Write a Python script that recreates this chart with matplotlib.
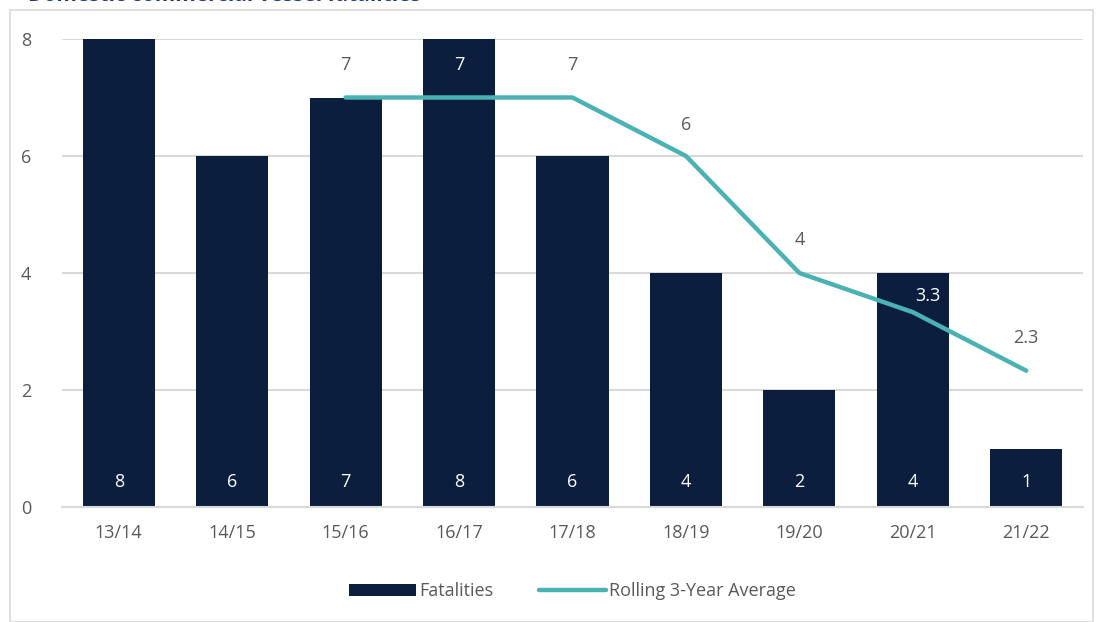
import matplotlib.pyplot as plt
import numpy as np
from matplotlib.patches import Rectangle

years = ['13/14', '14/15', '15/16', '16/17', '17/18', '18/19', '19/20', '20/21', '21/22']
fatalities = [8, 6, 7, 8, 6, 4, 2, 4, 1]
rolling = [np.nan, np.nan, 7, 7, 7, 6, 4, 3.33, 2.33]
rolling_labels = ['', '', '7', '7', '7', '6', '4', '3.3', '2.3']

navy = '#0B1E3E'
teal = '#4BB2B4'
grey = '#595959'

plt.rcParams['font.family'] = ['Open Sans', 'DejaVu Sans']

fig = plt.figure(figsize=(10.99, 6.22), dpi=100)
fig.patches.append(Rectangle((10 / 1099, 0), 1083 / 1099, 1 - 10 / 622,
                             transform=fig.transFigure, fill=False,
                             edgecolor='#D9D9D9', linewidth=1.2))
fig.text(28 / 1099, 1 - 6 / 622, 'Domestic commercial vessel fatalities',
         color='#1A3A8A', fontsize=15, fontweight='bold', va='bottom')

ax = fig.add_axes([62 / 1099, 1 - 507 / 622, 1021 / 1099, 468 / 622])
x = np.arange(len(years))
bars = ax.bar(x, fatalities, width=0.635, color=navy, label='Fatalities', zorder=2)
line, = ax.plot(x, rolling, color=teal, linewidth=3.2, label='Rolling 3-Year Average',
                zorder=3, solid_capstyle='round')

for xi, v in zip(x, fatalities):
    ax.text(xi, 0.42, str(v), color='white', fontsize=13, ha='center', va='center', zorder=4)

offsets = [0, 0, 0.55, 0.55, 0.55, 0.53, 0.56, 0.28, 0.56]
dx = [0, 0, 0, 0, 0, 0, 0, 0.13, 0]
for xi, v, lab, off, d in zip(x, rolling, rolling_labels, offsets, dx):
    if lab == '':
        continue
    c = 'white' if fatalities[xi] > v + off else grey
    ax.text(xi + d, v + off, lab, color=c, fontsize=13, ha='center', va='center', zorder=4)

ax.set_xlim(-0.5, len(years) - 0.5)
ax.set_ylim(0, 8)
ax.set_yticks([0, 2, 4, 6, 8])
ax.set_xticks(x)
ax.set_xticklabels(years)
ax.grid(axis='y', color='#D9D9D9', linewidth=1.5, zorder=0)
ax.set_axisbelow(True)
for s in ['top', 'right', 'left']:
    ax.spines[s].set_visible(False)
ax.spines['bottom'].set_color('#D9D9D9')
ax.spines['bottom'].set_linewidth(1.5)
ax.tick_params(axis='both', length=0, labelsize=13, colors=grey, pad=12)
ax.tick_params(axis='y', pad=22)

leg = ax.legend([bars, line], ['Fatalities', 'Rolling 3-Year Average'],
                loc='center', bbox_to_anchor=(0.5, -0.18), ncol=2, frameon=False,
                fontsize=13, handlelength=3.7, handletextpad=0.2, columnspacing=2.5)
for t in leg.get_texts():
    t.set_color(grey)

fig.savefig('out.png', dpi=100)
